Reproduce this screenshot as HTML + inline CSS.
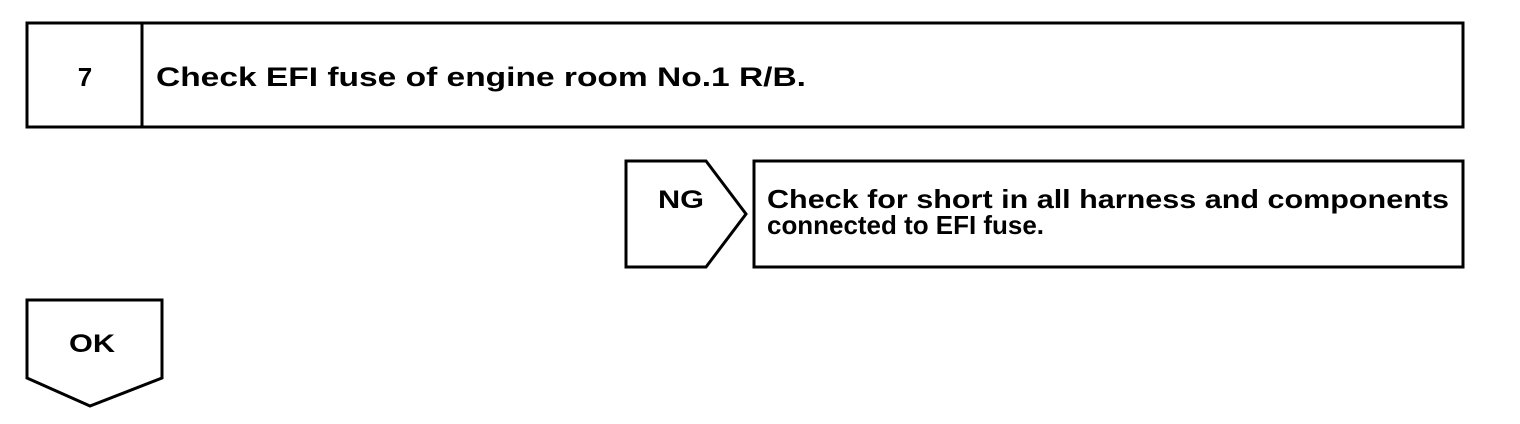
<!DOCTYPE html>
<html><head><meta charset="utf-8"><style>
html,body{margin:0;padding:0;background:#fff;width:1520px;height:424px;overflow:hidden}
text{font-family:"Liberation Sans",sans-serif;font-weight:bold;fill:#000}
</style></head><body>
<svg width="1520" height="424" viewBox="0 0 1520 424" xmlns="http://www.w3.org/2000/svg">
<g fill="none" stroke="#000" stroke-width="3">
<rect x="27" y="23" width="1436" height="104"/>
<line x1="142" y1="23" x2="142" y2="127"/>
<polygon points="626,161 706,161 746,214 706,267 626,267"/>
<rect x="754" y="161" width="709" height="106"/>
<polygon points="27,300 162,300 162,378 90,406 27,378"/>
</g>
<text x="85" y="86" font-size="26" text-anchor="middle">7</text>
<text x="156" y="86" font-size="27" textLength="650" lengthAdjust="spacingAndGlyphs">Check EFI fuse of engine room No.1 R/B.</text>
<text x="658" y="208" font-size="25" textLength="46" lengthAdjust="spacingAndGlyphs">NG</text>
<text x="767" y="208" font-size="26" textLength="682" lengthAdjust="spacingAndGlyphs">Check for short in all harness and components</text>
<text x="767" y="234" font-size="26" textLength="277" lengthAdjust="spacingAndGlyphs">connected to EFI fuse.</text>
<text x="69" y="352" font-size="25" textLength="46" lengthAdjust="spacingAndGlyphs">OK</text>
</svg>
</body></html>
